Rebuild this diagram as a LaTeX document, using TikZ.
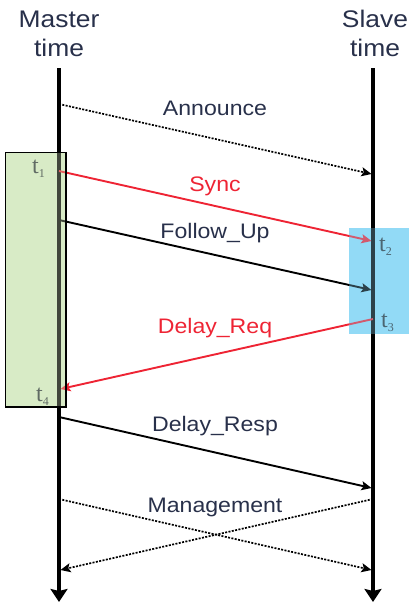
\documentclass[tikz,border=0pt]{standalone}
\usepackage{fontspec}
\setmainfont{Liberation Sans}[FakeStretch=1.1]
\newfontfamily\stampfont{Liberation Serif}
\usetikzlibrary{arrows.meta}
\definecolor{labelink}{RGB}{40,48,74}
\definecolor{msgred}{RGB}{238,36,52}
\definecolor{boxgreen}{RGB}{216,235,198}
\definecolor{boxblue}{RGB}{146,218,246}
\definecolor{stampink}{RGB}{45,52,58}
\newcommand{\stamp}[1]{t\raisebox{-4pt}{\fontsize{12}{12}\selectfont #1}}

\begin{document}
\begin{tikzpicture}[x=1pt,y=-1pt,
  axis/.style={line width=3.4pt,-{Stealth[length=13pt,width=17pt,inset=2pt]}},
  msg/.style={line width=1.9pt,-{Stealth[length=10pt,width=9pt,inset=2pt]}},
  ctl/.style={msg,line width=1.7pt,dash pattern=on 2pt off 1.4pt},
  head/.style={font=\fontsize{24}{29}\selectfont,text=labelink,align=center,inner sep=0pt},
  lbl/.style={font=\fontsize{21}{25}\selectfont,text=labelink,inner sep=0pt,anchor=base},
  tstamp/.style={font=\stampfont\fontsize{24}{24}\selectfont,text=stampink,inner sep=0pt,anchor=base west},
  tint/.style={fill opacity=0.3}
]
\useasboundingbox (0,0) rectangle (416,606);

% shaded timestamp groups (background)
\fill[boxblue] (349,228) rectangle (409,334);
\fill[boxgreen] (5.5,152.5) rectangle (66,407);

% time axes
\node[head,anchor=base] (master) at (59,56) {Master\\time};
\node[head,anchor=base] (slave) at (375,56) {Slave\\time};
\coordinate (m-top) at (59,68);
\coordinate (m-end) at (59,602);
\coordinate (s-top) at (373,68);
\coordinate (s-end) at (373,602);
\draw[axis] (m-top) -- (m-end);
\draw[axis] (s-top) -- (s-end);

% message end points on the axes
\coordinate (ann-a) at (59,104);  \coordinate (ann-b) at (371.5,174);
\coordinate (syn-a) at (59,171);  \coordinate (syn-b) at (371.5,241);
\coordinate (fup-a) at (59,220);  \coordinate (fup-b) at (371.5,290);
\coordinate (req-a) at (373,319); \coordinate (req-b) at (60.5,389);
\coordinate (rsp-a) at (59,417);  \coordinate (rsp-b) at (371.5,488);
\coordinate (mg1-a) at (59,499);  \coordinate (mg1-b) at (371.5,570);
\coordinate (mg2-a) at (373,499); \coordinate (mg2-b) at (60.5,570);

% messages
\draw[ctl] (ann-a) -- (ann-b);
\draw[msg,msgred] (syn-a) -- (syn-b);
\draw[msg] (fup-a) -- (fup-b);
\draw[msg,msgred] (req-a) -- (req-b);
\draw[msg] (rsp-a) -- (rsp-b);
\draw[ctl] (mg1-a) -- (mg1-b);
\draw[ctl] (mg2-a) -- (mg2-b);

% message names
\node[lbl] (l-ann) at (215,115) {Announce};
\node[lbl,text=msgred] (l-syn) at (215,191) {Sync};
\node[lbl] (l-fup) at (215,238) {Follow\_Up};
\node[lbl,text=msgred] (l-req) at (215,333) {Delay\_Req};
\node[lbl] (l-rsp) at (215,431) {Delay\_Resp};
\node[lbl] (l-mgt) at (215,512) {Management};

% timestamps
\node[tstamp] (t1) at (32,173) {\stamp{1}};
\node[tstamp] (t2) at (379,251) {\stamp{2}};
\node[tstamp] (t3) at (381,327) {\stamp{3}};
\node[tstamp] (t4) at (36,401) {\stamp{4}};

% translucent tint over the groups, and the frame of the master group
\fill[boxblue,tint] (349,228) rectangle (409,334);
\draw[line width=1.8pt,fill=boxgreen,tint] (5.5,152.5) rectangle (66,407);
\end{tikzpicture}
\end{document}
